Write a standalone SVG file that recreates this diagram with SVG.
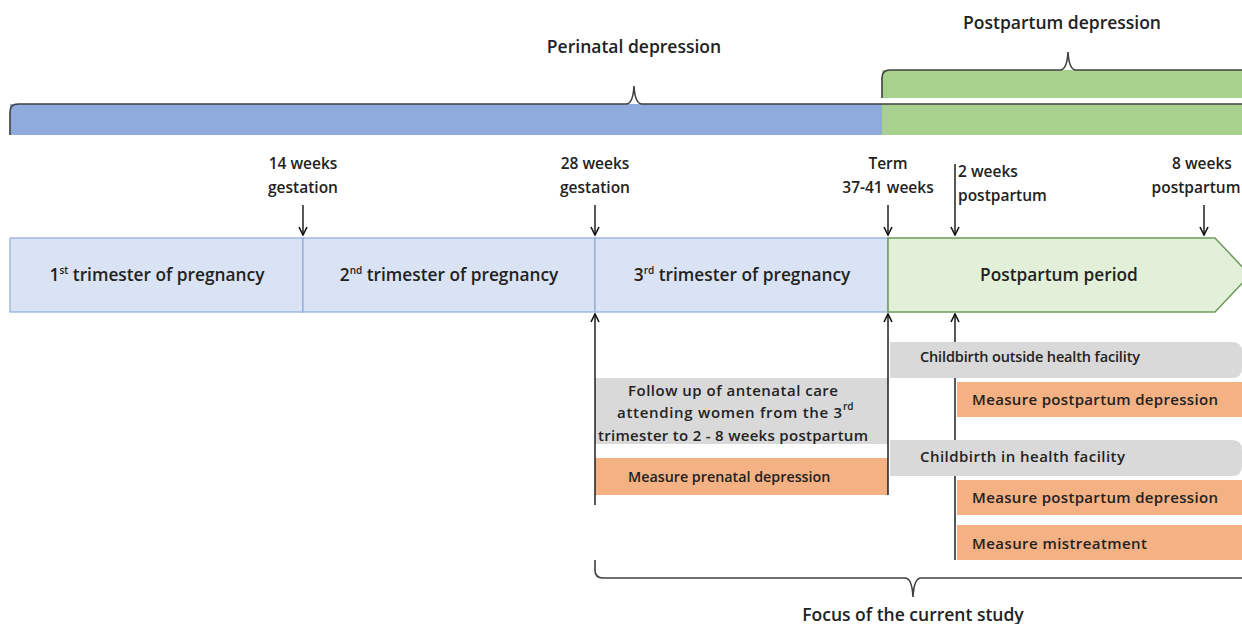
<svg xmlns="http://www.w3.org/2000/svg" width="1242" height="624" viewBox="0 0 1242 624">
<defs>
<marker id="ah" viewBox="0 0 10 10" refX="9" refY="5" markerWidth="10" markerHeight="10" markerUnits="userSpaceOnUse" orient="auto">
<path d="M1,1 L9,5 L1,9" fill="none" stroke="#111" stroke-width="1.6"/>
</marker>
<style>
text{font-family:"Open Sans","Noto Sans",sans-serif;font-weight:600;fill:#222;font-size:15px}
.c{text-anchor:middle}
.h{font-size:17.5px}
.bl{font-size:17.3px}
.tl{font-size:15.5px}
.blue{fill:#dae3f3;stroke:#8faadc;stroke-width:1.2}
.green{fill:#e2f0d9;stroke:#6f9a5a;stroke-width:1.5}
.grey{fill:#d9d9d9}
.orange{fill:#f4b183}
.brace{fill:none;stroke:#404040;stroke-width:1.6}
.ln{stroke:#111;stroke-width:1.4;fill:none}
.sup{font-size:10px}
</style>
</defs>
<g id="bars">
<rect x="10" y="104" width="872" height="31" fill="#8faadc"/>
<rect x="882" y="104" width="360" height="31" fill="#a9d18e"/>
<rect x="882" y="70" width="360" height="28" fill="#a9d18e"/>
</g>
<g id="perinatal-brace">
<path class="brace" d="M10,135 L10,112 Q10,104 18,104 L626,104 Q633,104 634,86 Q635,104 642,104 L1250,104"/>
<text class="c h" x="634" y="53">Perinatal depression</text>
</g>
<g id="postpartum-brace">
<path class="brace" d="M882,98 L882,78 Q882,70 890,70 L1060,70 Q1067,70 1068,52 Q1069,70 1076,70 L1250,70"/>
<text class="c h" x="1062" y="29">Postpartum depression</text>
</g>
<g id="trimester1">
<rect class="blue" x="10" y="238" width="293" height="74"/>
<text class="c bl" x="157" y="281">1<tspan class="sup" dy="-7">st</tspan><tspan dy="7"> trimester of pregnancy</tspan></text>
</g>
<g id="trimester2">
<rect class="blue" x="303" y="238" width="292" height="74"/>
<text class="c bl" x="449" y="281">2<tspan class="sup" dy="-7">nd</tspan><tspan dy="7"> trimester of pregnancy</tspan></text>
</g>
<g id="trimester3">
<rect class="blue" x="595" y="238" width="293" height="74"/>
<text class="c bl" x="742" y="281">3<tspan class="sup" dy="-7">rd</tspan><tspan dy="7"> trimester of pregnancy</tspan></text>
</g>
<g id="postpartum-period">
<path class="green" d="M888,238 L1215,238 L1250,275 L1215,312 L888,312 Z"/>
<text class="c bl" x="1059" y="281">Postpartum period</text>
</g>
<g id="labels">
<text class="c tl" x="303" y="169">14 weeks</text>
<text class="c tl" x="303" y="193">gestation</text>
<text class="c tl" x="595" y="169">28 weeks</text>
<text class="c tl" x="595" y="193">gestation</text>
<text class="c tl" x="888" y="169">Term</text>
<text class="c tl" x="888" y="193">37-41 weeks</text>
<text class="tl" x="958" y="177">2 weeks</text>
<text class="tl" x="958" y="201">postpartum</text>
<text class="c tl" x="1202" y="169">8 weeks</text>
<text class="c tl" x="1196" y="193">postpartum</text>
</g>
<g id="follow-up">
<rect class="grey" x="595" y="378" width="293" height="66"/>
<text x="628" y="396" textLength="210" lengthAdjust="spacing">Follow up of antenatal care</text>
<text x="617" y="418" textLength="225" lengthAdjust="spacing">attending women from the 3</text><text class="sup" x="843" y="410">rd</text>
<text x="598" y="441" textLength="270" lengthAdjust="spacing">trimester to 2 - 8 weeks postpartum</text>
</g>
<g id="prenatal">
<rect class="orange" x="595" y="458" width="293" height="37"/>
<text x="628" y="482" style="font-size:14.3px">Measure prenatal depression</text>
</g>
<g id="outside">
<path class="grey" d="M890,342 L1232,342 Q1242,342 1242,352 L1242,368 Q1242,378 1232,378 L890,378 Z"/>
<text x="920" y="362" style="font-size:14.5px" textLength="220" lengthAdjust="spacing">Childbirth outside health facility</text>
</g>
<g id="outside-ppd">
<rect class="orange" x="957" y="382" width="285" height="35"/>
<text x="972" y="405" textLength="246" lengthAdjust="spacing">Measure postpartum depression</text>
</g>
<g id="inside">
<path class="grey" d="M890,440 L1232,440 Q1242,440 1242,450 L1242,466 Q1242,476 1232,476 L890,476 Z"/>
<text x="920" y="462" textLength="205" lengthAdjust="spacing">Childbirth in health facility</text>
</g>
<g id="inside-ppd">
<rect class="orange" x="957" y="480" width="285" height="35"/>
<text x="972" y="503" textLength="246" lengthAdjust="spacing">Measure postpartum depression</text>
</g>
<g id="mistreatment">
<rect class="orange" x="957" y="525" width="285" height="35"/>
<text x="972" y="549" textLength="175" lengthAdjust="spacing">Measure mistreatment</text>
</g>
<g id="connectors">
<line class="ln" x1="303" y1="205" x2="303" y2="235" marker-end="url(#ah)"/>
<line class="ln" x1="595" y1="205" x2="595" y2="235" marker-end="url(#ah)"/>
<line class="ln" x1="888" y1="205" x2="888" y2="235" marker-end="url(#ah)"/>
<line class="ln" x1="955" y1="164" x2="955" y2="235" marker-end="url(#ah)"/>
<line class="ln" x1="1204" y1="205" x2="1204" y2="235" marker-end="url(#ah)"/>
<line class="ln" x1="595" y1="505" x2="595" y2="314" marker-end="url(#ah)"/>
<line class="ln" x1="888" y1="495" x2="888" y2="314" marker-end="url(#ah)"/>
<line class="ln" x1="955" y1="342" x2="955" y2="314" marker-end="url(#ah)"/>
<line class="ln" x1="955" y1="378" x2="955" y2="440"/>
<line class="ln" x1="955" y1="476" x2="955" y2="560"/>
</g>
<g id="focus-brace">
<path class="brace" d="M595,560 L595,570 Q595,578 603,578 L905,578 Q912,578 913,597 Q914,578 921,578 L1250,578"/>
<text class="c h" x="913" y="621">Focus of the current study</text>
</g>
</svg>
